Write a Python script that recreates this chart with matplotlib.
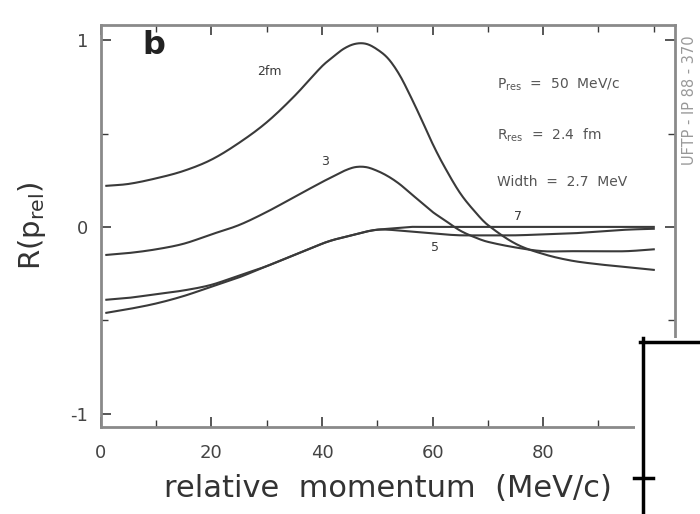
#!/usr/bin/env python3

import matplotlib
matplotlib.use('Agg')
import matplotlib.pyplot as plt
from matplotlib.lines import Line2D
from matplotlib.patches import Rectangle
from matplotlib.ticker import MultipleLocator
import numpy as np

plt.rcParams['axes.unicode_minus'] = False

# values
p_rel = [1, 5, 10, 15, 20, 25, 30, 35, 40, 42, 44, 46, 48, 50, 52, 54, 56, 58, 60, 62, 65, 68, 70, 75, 80, 85, 90, 95, 100]
r_2fm = [0.22, 0.23, 0.26, 0.30, 0.36, 0.45, 0.56, 0.70, 0.86, 0.91, 0.955, 0.98, 0.98, 0.95, 0.90, 0.815, 0.70, 0.575, 0.445, 0.33, 0.18, 0.07, 0.01, -0.09, -0.145, -0.18, -0.20, -0.215, -0.23]
r_3fm = [-0.15, -0.14, -0.12, -0.09, -0.04, 0.01, 0.08, 0.16, 0.24, 0.27, 0.30, 0.32, 0.32, 0.30, 0.27, 0.23, 0.18, 0.13, 0.08, 0.04, -0.02, -0.06, -0.08, -0.11, -0.13, -0.13, -0.13, -0.13, -0.12]
r_5fm = [-0.39, -0.38, -0.36, -0.34, -0.31, -0.26, -0.21, -0.15, -0.09, -0.07, -0.055, -0.04, -0.025, -0.015, -0.015, -0.02, -0.025, -0.03, -0.035, -0.04, -0.045, -0.045, -0.045, -0.045, -0.04, -0.035, -0.025, -0.015, -0.01]
r_7fm = [-0.46, -0.44, -0.41, -0.37, -0.32, -0.27, -0.21, -0.15, -0.09, -0.07, -0.055, -0.04, -0.025, -0.015, -0.01, -0.005, 0.0, 0.0, 0.0, 0.0, 0.0, 0.0, 0.0, 0.0, 0.0, 0.0, 0.0, 0.0, 0.0]

curve_labels = ['2fm', '3', '5', '7']
label_pos = [(30.5, 0.83), (40.5, 0.35), (60.5, -0.11), (75.5, 0.055)]

params = [r'P$_{\rm res}$  =  50  MeV/c', r'R$_{\rm res}$  =  2.4  fm', 'Width  =  2.7  MeV']
param_y = [0.76, 0.49, 0.24]

ink = '#3a3a3a'
frame = '#8a8a8a'


def smooth(x, y):
    # cubic hermite (catmull-rom) through the read points, for a pen-like line
    xs = np.linspace(x[0], x[-1], 500)
    xx = np.asarray(x, float)
    yy = np.asarray(y, float)
    out = np.empty_like(xs)
    for k, v in enumerate(xs):
        i = np.searchsorted(xx, v) - 1
        i = min(max(i, 0), len(xx) - 2)
        i0, i1, i2, i3 = max(i - 1, 0), i, i + 1, min(i + 2, len(xx) - 1)
        h = xx[i2] - xx[i1]
        t = (v - xx[i1]) / h
        m1 = (yy[i2] - yy[i0]) / (xx[i2] - xx[i0]) * h
        m2 = (yy[i3] - yy[i1]) / (xx[i3] - xx[i1]) * h
        t2, t3 = t * t, t * t * t
        out[k] = ((2*t3 - 3*t2 + 1) * yy[i1] + (t3 - 2*t2 + t) * m1
                  + (-2*t3 + 3*t2) * yy[i2] + (t3 - t2) * m2)
    return xs, out


def main():
    fig = plt.figure(figsize=(7.0, 5.14), dpi=100)
    ax = fig.add_axes([0.144, 0.169, 0.82, 0.782])

    for ys in (r_2fm, r_3fm, r_5fm, r_7fm):
        xs, yv = smooth(p_rel, ys)
        ax.plot(xs, yv, color=ink, lw=1.5)

    for lab, (lx, ly) in zip(curve_labels, label_pos):
        ax.text(lx, ly, lab, fontsize=9, color=ink, ha='center', va='center')

    for t, y in zip(params, param_y):
        ax.text(71.7, y, t, fontsize=10, color='#555555', va='center')

    ax.text(7.5, 0.97, 'b', fontsize=23, fontweight='bold', color='#222222', va='center')

    ax.set_xlim(0, 103.8)
    ax.set_ylim(-1.072, 1.08)
    ax.xaxis.set_minor_locator(MultipleLocator(10))
    ax.yaxis.set_major_locator(MultipleLocator(1))
    ax.yaxis.set_minor_locator(MultipleLocator(0.5))
    ax.set_xticks([0, 20, 40, 60, 80])
    ax.tick_params(which='both', direction='in', top=True, right=True, color=ink)
    ax.tick_params(which='major', length=7, width=1.2, labelsize=13, labelcolor='#444444')
    ax.tick_params(axis='x', which='major', pad=12)
    ax.tick_params(axis='y', which='major', pad=9)
    ax.tick_params(which='minor', length=5, width=1.0)
    for s in ax.spines.values():
        s.set_color(frame)
        s.set_linewidth(2.0)

    ax.set_xlabel('relative  momentum  (MeV/c)', fontsize=22, color='#333333', labelpad=9)
    ax.set_ylabel(r'R(p$_{\rm rel}$)', fontsize=21, color='#333333', labelpad=16)

    fig.text(0.985, 0.805, 'UFTP - IP 88 - 370', rotation=90, fontsize=10.5,
             color='#999999', ha='center', va='center')

    # pasted-on bracket in the lower right corner of the scan
    fig.add_artist(Rectangle((635 / 700, 0), 65 / 700, 1 - 338 / 514,
                             transform=fig.transFigure, facecolor='white', edgecolor='none'))
    fig.add_artist(Line2D([640 / 700, 1.0], [1 - 342 / 514, 1 - 342 / 514],
                          transform=fig.transFigure, color='black', lw=2.5))
    fig.add_artist(Line2D([643 / 700, 643 / 700], [1 - 338 / 514, 0],
                          transform=fig.transFigure, color='black', lw=2.5))
    fig.add_artist(Line2D([634 / 700, 653 / 700], [1 - 478 / 514, 1 - 478 / 514],
                          transform=fig.transFigure, color='black', lw=2.5))

    fig.savefig('out.png', dpi=100)


if __name__ == '__main__':
    main()
